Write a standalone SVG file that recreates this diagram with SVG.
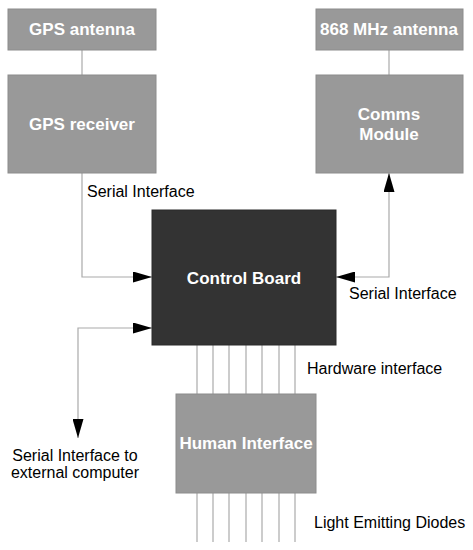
<svg xmlns="http://www.w3.org/2000/svg" width="473" height="550" viewBox="0 0 473 550">
<style>
.box{fill:#999999;stroke:#8c8c8c;stroke-width:1}
.dark{fill:#333333;stroke:#2a2a2a;stroke-width:1}
.t{font-family:"Liberation Sans",Arial,sans-serif;font-weight:bold;font-size:17px;fill:#ffffff;text-anchor:middle}
.l{font-family:"Liberation Sans",Arial,sans-serif;font-size:16px;fill:#000000}
.c{fill:none;stroke:#aaaaaa;stroke-width:1.2}
</style>
<defs>
<marker id="ah" markerWidth="19" markerHeight="11" refX="19" refY="5.5" orient="auto" markerUnits="userSpaceOnUse">
<path d="M0,0 L19,5.5 L0,11 Z" fill="#000000"/>
</marker>
<marker id="ahs" markerWidth="19" markerHeight="11" refX="19" refY="5.5" orient="auto-start-reverse" markerUnits="userSpaceOnUse">
<path d="M0,0 L19,5.5 L0,11 Z" fill="#000000"/>
</marker>
</defs>
<g id="connectors">
<line class="c" x1="82" y1="50" x2="82" y2="75"/>
<line class="c" x1="389" y1="50" x2="389" y2="75"/>
<polyline class="c" points="82,173 82,277 152,277" marker-end="url(#ah)"/>
<polyline class="c" points="389,173 389,277 336,277" marker-start="url(#ahs)" marker-end="url(#ah)"/>
<polyline class="c" points="78,438 78,328 152,328" marker-start="url(#ahs)" marker-end="url(#ah)"/>
<g id="hw-lines">
<line class="c" x1="197" y1="345" x2="197" y2="394"/>
<line class="c" x1="213" y1="345" x2="213" y2="394"/>
<line class="c" x1="229" y1="345" x2="229" y2="394"/>
<line class="c" x1="246" y1="345" x2="246" y2="394"/>
<line class="c" x1="262" y1="345" x2="262" y2="394"/>
<line class="c" x1="279" y1="345" x2="279" y2="394"/>
<line class="c" x1="295" y1="345" x2="295" y2="394"/>
</g>
<g id="led-lines">
<line class="c" x1="197" y1="493" x2="197" y2="542"/>
<line class="c" x1="213" y1="493" x2="213" y2="542"/>
<line class="c" x1="229" y1="493" x2="229" y2="542"/>
<line class="c" x1="246" y1="493" x2="246" y2="542"/>
<line class="c" x1="262" y1="493" x2="262" y2="542"/>
<line class="c" x1="279" y1="493" x2="279" y2="542"/>
<line class="c" x1="295" y1="493" x2="295" y2="542"/>
</g>
<text class="l" x="87" y="197">Serial Interface</text>
<text class="l" x="349" y="299">Serial Interface</text>
<text class="l" x="307" y="374">Hardware interface</text>
<text class="l" x="314" y="528">Light Emitting Diodes</text>
<text class="l" x="75" y="461" text-anchor="middle">Serial Interface to</text>
<text class="l" x="75" y="478" text-anchor="middle">external computer</text>
</g>
<g id="gps-antenna">
<rect class="box" x="8" y="9" width="148" height="41"/>
<text class="t" x="82" y="35">GPS antenna</text>
</g>
<g id="gps-receiver">
<rect class="box" x="8" y="75" width="148" height="98"/>
<text class="t" x="82" y="130">GPS receiver</text>
</g>
<g id="mhz-antenna">
<rect class="box" x="316" y="9" width="147" height="41"/>
<text class="t" x="389" y="35">868 MHz antenna</text>
</g>
<g id="comms-module">
<rect class="box" x="316" y="75" width="147" height="98"/>
<text class="t" x="389" y="120">Comms</text>
<text class="t" x="389" y="140">Module</text>
</g>
<g id="control-board">
<rect class="dark" x="152" y="210" width="184" height="135"/>
<text class="t" x="244" y="284">Control Board</text>
</g>
<g id="human-interface">
<rect class="box" x="176" y="394" width="140" height="99"/>
<text class="t" x="246" y="449">Human Interface</text>
</g>
</svg>
